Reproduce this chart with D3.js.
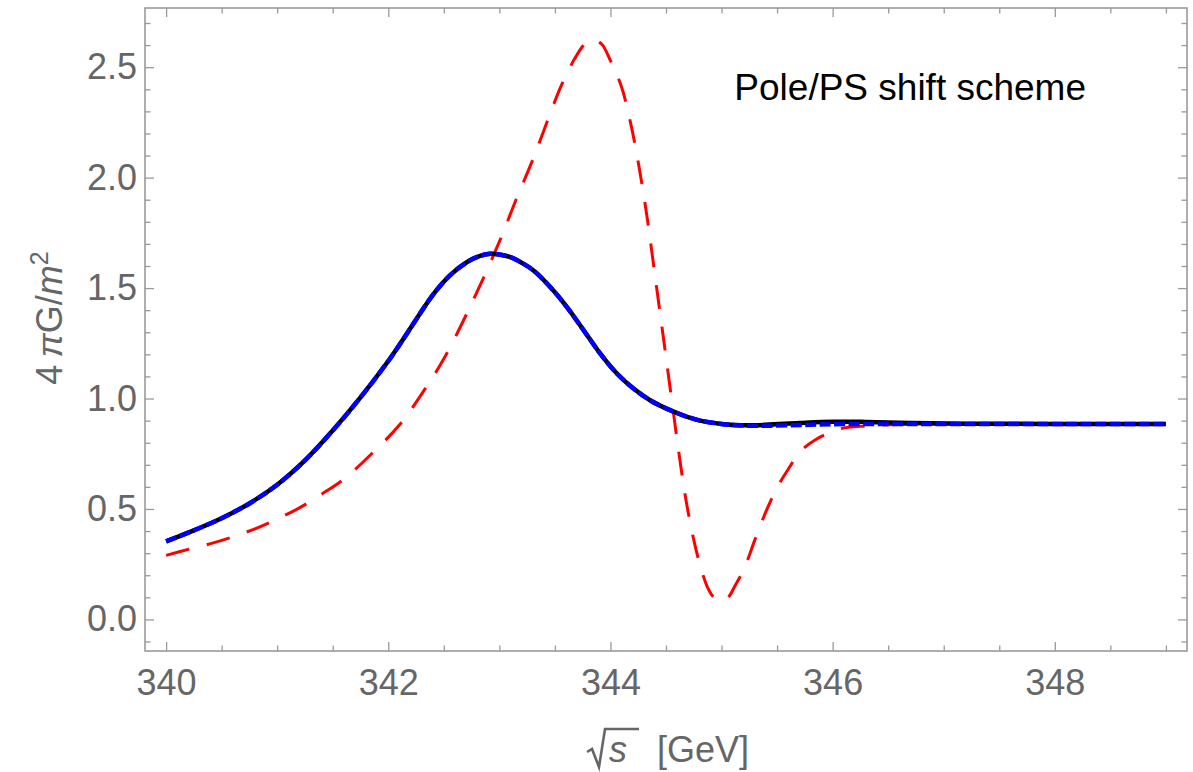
<!DOCTYPE html>
<html><head><meta charset="utf-8">
<script src="https://cdn.jsdelivr.net/npm/d3@7"></script>
<style>body{margin:0;background:#fff} svg{display:block}</style>
</head><body>
<svg id="c" width="1193" height="772"></svg>
<script>
// ---- data ----
const xBlue = [340, 340.25, 340.5, 340.75, 341.0, 341.25, 341.5, 341.75, 342.0, 342.11, 342.26, 342.41, 342.56, 342.71, 342.82, 342.92, 343.0, 343.1, 343.2, 343.31, 343.46, 343.61, 343.76, 343.91, 344.06, 344.21, 344.36, 344.51, 344.66, 344.81, 345.0, 345.17, 345.4, 345.7, 346.0, 346.5, 347, 348, 349];
const yBlue = [0.353, 0.403, 0.458, 0.525, 0.61, 0.72, 0.855, 1.005, 1.17, 1.25, 1.365, 1.475, 1.56, 1.618, 1.645, 1.655, 1.652, 1.64, 1.615, 1.579, 1.504, 1.413, 1.308, 1.202, 1.112, 1.044, 0.991, 0.953, 0.923, 0.90, 0.885, 0.878, 0.877, 0.880, 0.884, 0.885, 0.885, 0.885, 0.885];

const xBlack = [340, 340.25, 340.5, 340.75, 341.0, 341.25, 341.5, 341.75, 342.0, 342.11, 342.26, 342.41, 342.56, 342.71, 342.82, 342.92, 343.0, 343.1, 343.2, 343.31, 343.46, 343.61, 343.76, 343.91, 344.06, 344.21, 344.36, 344.51, 344.66, 344.81, 345.0, 345.17, 345.4, 345.7, 346.0, 346.3, 346.7, 347.2, 348, 349];
const yBlack = [0.353, 0.403, 0.458, 0.525, 0.61, 0.72, 0.855, 1.005, 1.17, 1.25, 1.365, 1.475, 1.56, 1.618, 1.645, 1.655, 1.652, 1.64, 1.615, 1.579, 1.504, 1.413, 1.308, 1.202, 1.112, 1.044, 0.991, 0.953, 0.923, 0.90, 0.885, 0.879, 0.881, 0.889, 0.895, 0.894, 0.889, 0.886, 0.885, 0.885];

const xRed = [340, 340.2, 340.4, 340.6, 340.8, 341.0, 341.2, 341.4, 341.6, 341.85, 342.1, 342.3, 342.5, 342.75, 343.0, 343.15, 343.3, 343.45, 343.56, 343.68, 343.76, 343.84, 343.92, 344.0, 344.1, 344.18, 344.25, 344.33, 344.4, 344.47, 344.55, 344.62, 344.68, 344.75, 344.81, 344.87, 344.93, 345.0, 345.06, 345.13, 345.21, 345.3, 345.41, 345.5, 345.6, 345.72, 345.86, 346.07, 346.3, 346.6, 347, 348, 349];
const yRed = [0.29, 0.317, 0.343, 0.374, 0.41, 0.455, 0.505, 0.567, 0.635, 0.75, 0.88, 1.02, 1.18, 1.43, 1.71, 1.90, 2.08, 2.28, 2.42, 2.54, 2.60, 2.625, 2.605, 2.53, 2.41, 2.25, 2.07, 1.82, 1.56, 1.30, 1.0, 0.74, 0.54, 0.36, 0.24, 0.15, 0.10, 0.082, 0.10, 0.16, 0.237, 0.36, 0.50, 0.596, 0.68, 0.765, 0.818, 0.863, 0.876, 0.882, 0.885, 0.885, 0.885];

const xTicksMajor = [340, 342, 344, 346, 348];
const xTickLabels = ["340", "342", "344", "346", "348"];
const xTicksMinor = [340.5, 341, 341.5, 342.5, 343, 343.5, 344.5, 345, 345.5, 346.5, 347, 347.5, 348.5, 349];
const yTicksMajor = [0, 0.5, 1.0, 1.5, 2.0, 2.5];
const yTickLabels = ["0.0", "0.5", "1.0", "1.5", "2.0", "2.5"];
const yTicksMinor = [-0.1, 0.1, 0.2, 0.3, 0.4, 0.6, 0.7, 0.8, 0.9, 1.1, 1.2, 1.3, 1.4, 1.6, 1.7, 1.8, 1.9, 2.1, 2.2, 2.3, 2.4, 2.6, 2.7];
const annotation = "Pole/PS shift scheme";

// ---- layout ----
const L = 145, R = 1187, T = 8, B = 651;
const FONT = "'Liberation Sans', Arial, Helvetica, sans-serif";
const frameColor = "#9a9a9a", labelColor = "#666666";

const svg = d3.select("#c");
const x = d3.scaleLinear().domain([339.81, 349.19]).range([L, R]);
const y = d3.scaleLinear().domain([-0.143, 2.768]).range([B, T]);

function styleAxis(g) {
  g.select(".domain").remove();
  g.selectAll(".tick line").attr("stroke", frameColor).attr("stroke-width", 1.3);
  g.selectAll(".tick text").attr("fill", labelColor).style("font-family", FONT).style("font-size", "36px");
}

// bottom
svg.append("g").attr("transform", `translate(0,${B})`)
  .call(d3.axisBottom(x).tickValues(xTicksMajor).tickSize(-9).tickPadding(18).tickFormat((d, i) => xTickLabels[i]))
  .call(styleAxis);
svg.append("g").attr("transform", `translate(0,${B})`)
  .call(d3.axisBottom(x).tickValues(xTicksMinor).tickSize(-5.5).tickFormat(""))
  .call(styleAxis);
// top
svg.append("g").attr("transform", `translate(0,${T})`)
  .call(d3.axisTop(x).tickValues(xTicksMajor).tickSize(-9).tickFormat(""))
  .call(styleAxis);
svg.append("g").attr("transform", `translate(0,${T})`)
  .call(d3.axisTop(x).tickValues(xTicksMinor).tickSize(-5.5).tickFormat(""))
  .call(styleAxis);
// left
svg.append("g").attr("transform", `translate(${L},0)`)
  .call(d3.axisLeft(y).tickValues(yTicksMajor).tickSize(-9).tickPadding(8).tickFormat((d, i) => yTickLabels[i]))
  .call(styleAxis);
svg.append("g").attr("transform", `translate(${L},0)`)
  .call(d3.axisLeft(y).tickValues(yTicksMinor).tickSize(-5.5).tickFormat(""))
  .call(styleAxis);
// right
svg.append("g").attr("transform", `translate(${R},0)`)
  .call(d3.axisRight(y).tickValues(yTicksMajor).tickSize(-9).tickFormat(""))
  .call(styleAxis);
svg.append("g").attr("transform", `translate(${R},0)`)
  .call(d3.axisRight(y).tickValues(yTicksMinor).tickSize(-5.5).tickFormat(""))
  .call(styleAxis);

// frame
svg.append("rect").attr("x", L).attr("y", T).attr("width", R - L).attr("height", B - T)
  .attr("fill", "none").attr("stroke", frameColor).attr("stroke-width", 1.6);

// curves
svg.append("clipPath").attr("id", "clip").append("rect")
  .attr("x", L).attr("y", T).attr("width", R - L).attr("height", B - T);
const plot = svg.append("g").attr("clip-path", "url(#clip)");
const line = d3.line().x(d => x(d[0])).y(d => y(d[1])).curve(d3.curveCatmullRom.alpha(0.5));

plot.append("path").datum(d3.zip(xRed, yRed)).attr("d", line)
  .attr("fill", "none").attr("stroke", "#ff0000").attr("stroke-width", 3).attr("stroke-dasharray", "24,18");
plot.append("path").datum(d3.zip(xBlack, yBlack)).attr("d", line)
  .attr("fill", "none").attr("stroke", "#000000").attr("stroke-width", 4.5);
plot.append("path").datum(d3.zip(xBlue, yBlue)).attr("d", line)
  .attr("fill", "none").attr("stroke", "#0000ff").attr("stroke-width", 4.5).attr("stroke-dasharray", "11,3.5");

// annotation
svg.append("text").attr("x", 1086).attr("y", 100).attr("text-anchor", "end")
  .style("font-family", FONT).style("font-size", "37px").attr("fill", "#000").text(annotation);

// y title
const yt = svg.append("text").attr("transform", "translate(62,318) rotate(-90)").attr("text-anchor", "middle")
  .style("font-family", FONT).style("font-size", "36px").attr("fill", labelColor);
yt.append("tspan").text("4\u2009");
yt.append("tspan").style("font-style", "italic").text("π");
yt.append("tspan").text("G/");
yt.append("tspan").style("font-style", "italic").text("m");
yt.append("tspan").attr("dy", -14).style("font-size", "25px").text("2");

// x title: sqrt(s) [GeV]
const xt = svg.append("g");
const sTxt = xt.append("text").attr("x", 609).attr("y", 762)
  .style("font-family", FONT).style("font-size", "36px").style("font-style", "italic").attr("fill", labelColor).text("s");
xt.append("text").attr("x", 657).attr("y", 762)
  .style("font-family", FONT).style("font-size", "36px").attr("fill", labelColor).text("[GeV]");
const bb = sTxt.node().getBBox();
const topY = 729, botY = 767;
xt.append("path")
  .attr("d", `M587,752 L592,749 L599,${botY} L605,${topY} L${bb.x + bb.width + 12},${topY}`)
  .attr("fill", "none").attr("stroke", labelColor).attr("stroke-width", 2.6).attr("stroke-linejoin", "miter");
</script>
</body></html>
